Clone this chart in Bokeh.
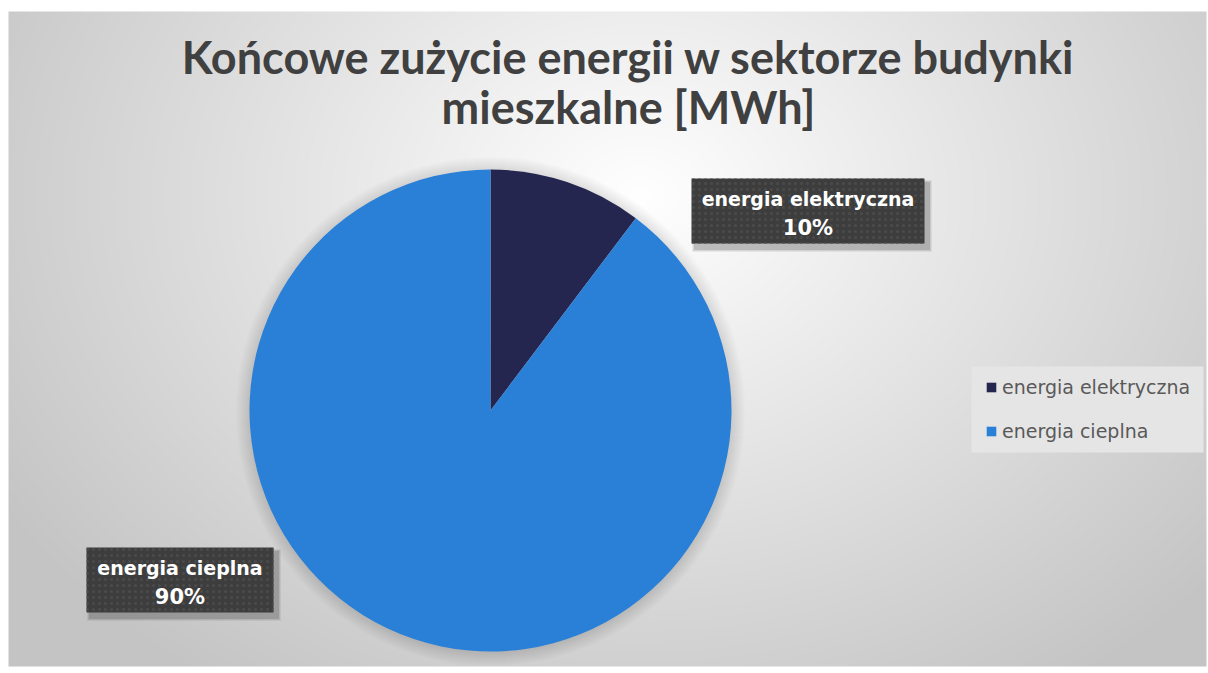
import numpy as np
from bokeh.plotting import figure
from bokeh.models import Range1d, Label, Legend, LegendItem, ColumnDataSource
from bokeh.core.properties import value
from bokeh.embed import file_html
from bokeh.resources import INLINE

# ---- data ----
categories = ["energia elektryczna", "energia cieplna"]
values = [10.3, 89.7]
colors = ["#252650", "#2A7FD6"]
title_lines = ["Końcowe zużycie energii w sektorze budynki", "mieszkalne [MWh]"]

# ---- layout ----
W, H = 1208, 673
TITLE_FONT = "Lato"
LABEL_FONT = "DejaVu Sans"
PIE_X, PIE_Y, PIE_R = 490, 263, 241
BG = (8, 7, 1198, 655)  # x, y, w, h of chart area
LEGEND_BOX = (971, 221, 1203, 307)  # left, bottom, right, top
BOXES = [  # centre x, centre y, width, height of data label boxes
    (807.5, 462.5, 233, 65),
    (179.5, 93.5, 187, 65),
]

p = figure(width=W, height=H, x_range=Range1d(0, W), y_range=Range1d(0, H),
           output_backend="svg", toolbar_location=None, min_border=0)
p.xaxis.visible = False
p.yaxis.visible = False
p.grid.visible = False
p.outline_line_color = None
p.background_fill_color = "white"
p.border_fill_color = "white"

# background radial gradient
gw, gh = 600, 328
xs = np.linspace(BG[0], BG[0] + BG[2], gw)
ys = np.linspace(BG[1], BG[1] + BG[3], gh)
X, Y = np.meshgrid(xs, ys)
gcx, gcy = 640, H - 195
t = np.clip(np.sqrt(((X - gcx) / 760.0) ** 2 + ((Y - gcy) / 600.0) ** 2), 0, 1)
lv = (255 - (255 - 196) * t).astype(np.uint32)
img = (np.uint32(255) << 24) | (lv << 16) | (lv << 8) | lv
p.image_rgba(image=[img.astype(np.uint32)], x=BG[0], y=BG[1], dw=BG[2], dh=BG[3])

# pie shadow (soft)
for k in range(14, 0, -1):
    p.circle(x=PIE_X, y=PIE_Y - 1, radius=PIE_R + k, fill_color="black",
             fill_alpha=0.009, line_color=None)

# pie
total = float(sum(values))
fracs = [v / total for v in values]
cum = np.cumsum([0.0] + fracs)
starts = [np.pi / 2 - cum[i + 1] * 2 * np.pi for i in range(len(values))]
ends = [np.pi / 2 - cum[i] * 2 * np.pi for i in range(len(values))]
pcts = ["%d%%" % round(f * 100) for f in fracs]
src = ColumnDataSource(dict(cat=categories, val=values, start=starts, end=ends, color=colors))
wr = p.wedge(x=PIE_X, y=PIE_Y, radius=PIE_R, start_angle="start", end_angle="end",
             fill_color="color", line_color=None, source=src)

# data label boxes
bx = [b[0] for b in BOXES]
by = [b[1] for b in BOXES]
bw = [b[2] for b in BOXES]
bh = [b[3] for b in BOXES]
for k, a in [(7, 0.06), (5, 0.08), (3, 0.12)]:
    p.rect(x=[x + 4 for x in bx], y=[y - 5 for y in by], width=[w + k for w in bw],
           height=[h + k for h in bh], fill_color="black", fill_alpha=a, line_color=None)
p.rect(x=bx, y=by, width=bw, height=bh, fill_color="#3d3d3d", line_color=None,
       hatch_pattern="dot", hatch_color="#4b4b4b", hatch_scale=6, hatch_weight=1.2)
p.text(x=bx, y=[y + 12 for y in by], text=categories, text_align="center",
       text_baseline="middle", text_color="white", text_font=value(LABEL_FONT),
       text_font_style="bold", text_font_size="19px")
p.text(x=bx, y=[y - 17 for y in by], text=pcts, text_align="center",
       text_baseline="middle", text_color="white", text_font=value(LABEL_FONT),
       text_font_style="bold", text_font_size="21px")

# title
for line, yy in zip(title_lines, [617, 567]):
    p.add_layout(Label(x=628, y=yy, text=line, text_align="center", text_baseline="alphabetic",
                       text_font=TITLE_FONT, text_font_style="bold", text_font_size="45px",
                       text_color="#404040"))

# legend background
p.quad(left=LEGEND_BOX[0], bottom=LEGEND_BOX[1], right=LEGEND_BOX[2], top=LEGEND_BOX[3],
       fill_color="#e5e5e5", line_color=None)

# legend
legend = Legend(items=[LegendItem(label=c, renderers=[wr], index=i) for i, c in enumerate(categories)],
                location=(985, 231), orientation="vertical",
                background_fill_alpha=0.0, border_line_color=None,
                label_text_font=LABEL_FONT, label_text_font_size="19px",
                label_text_color="#595959", glyph_width=12, glyph_height=12,
                label_height=20, spacing=22, padding=0, margin=0, label_standoff=5)
p.add_layout(legend)

open("out.html", "w").write(file_html(p, INLINE))
